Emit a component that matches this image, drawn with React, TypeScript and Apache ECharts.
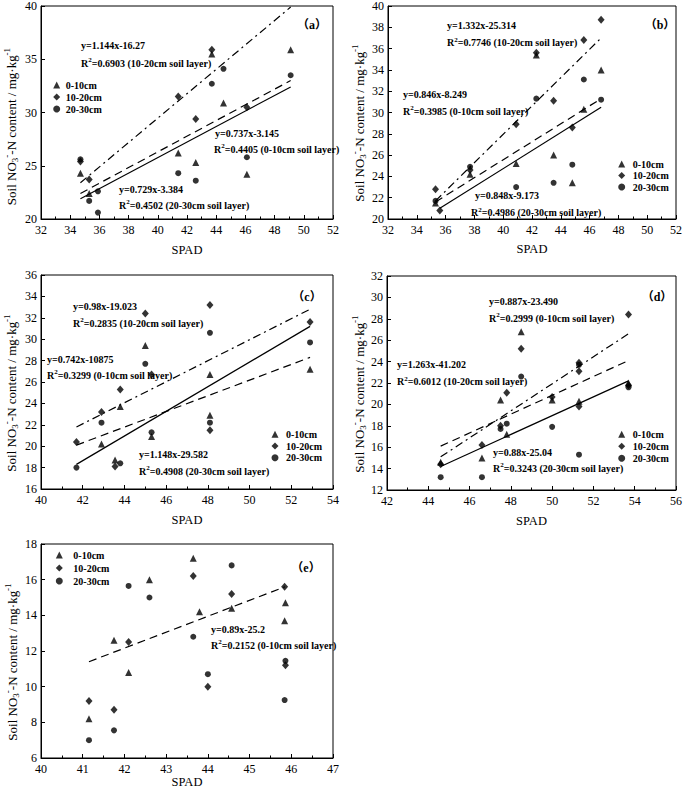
import React, { useEffect, useRef } from "react";
import * as echarts from "echarts";

const SERIF = '"Liberation Serif", "Times New Roman", serif';
const TAGFONT = '"Liberation Serif", "Noto Sans CJK SC", serif';

// ---------- axis ranges [min, max, interval] ----------
const aXAxis = [32, 52, 2];
const aYAxis = [20, 40, 5];
const bXAxis = [32, 52, 2];
const bYAxis = [20, 40, 2];
const cXAxis = [40, 54, 2];
const cYAxis = [16, 36, 2];
const dXAxis = [42, 56, 2];
const dYAxis = [12, 32, 2];
const eXAxis = [40, 47, 1];
const eYAxis = [6, 18, 2];

const LAYERS = ["0-10cm", "10-20cm", "20-30cm"];

// ---------- panel (a) ----------
const aL1 = [[43.7, 35.5], [49.1, 35.9], [44.5, 30.9], [34.7, 24.3], [35.3, 22.4], [41.4, 26.2], [42.6, 25.3], [46.1, 24.2]];
const aL2 = [[43.7, 35.9], [41.4, 31.5], [46.1, 30.5], [42.6, 29.4], [34.7, 25.4], [35.3, 23.7]];
const aL3 = [[44.5, 34.1], [49.1, 33.5], [43.7, 32.7], [34.7, 25.6], [35.9, 22.6], [35.3, 21.7], [35.9, 20.6], [41.4, 24.3], [42.6, 23.6], [46.1, 25.8]];
const aFit1 = [[34.7, 22.4], [49.1, 33.0]];
const aFit2 = [[34.7, 23.4], [49.1, 39.9]];
const aFit3 = [[34.7, 21.9], [49.1, 32.4]];

// ---------- panel (b) ----------
const bL1 = [[42.3, 35.4], [46.8, 34.0], [45.6, 30.3], [43.5, 26.0], [40.9, 25.2], [44.8, 23.4], [37.7, 24.2], [35.3, 21.5]];
const bL2 = [[46.8, 38.7], [45.6, 36.8], [42.3, 35.6], [43.5, 31.1], [44.8, 28.6], [40.9, 28.9], [37.7, 24.6], [35.3, 22.8], [35.6, 20.8]];
const bL3 = [[45.6, 33.1], [42.3, 31.3], [46.8, 31.2], [44.8, 25.1], [37.7, 24.9], [40.9, 23.0], [43.5, 23.4], [35.3, 21.7]];
const bFit1 = [[35.3, 21.6], [46.8, 31.3]];
const bFit2 = [[35.3, 21.7], [46.8, 37.0]];
const bFit3 = [[35.6, 21.0], [46.8, 30.5]];

// ---------- panel (c) ----------
const cL1 = [[45.0, 29.4], [48.1, 26.7], [52.9, 27.2], [43.8, 23.7], [42.9, 20.2], [43.55, 18.7], [45.3, 20.9], [48.1, 22.9]];
const cL2 = [[48.1, 33.2], [45.0, 32.4], [52.9, 31.6], [45.3, 26.7], [43.8, 25.3], [42.9, 23.2], [41.7, 20.4], [43.55, 18.1], [48.1, 21.5]];
const cL3 = [[48.1, 30.6], [52.9, 29.7], [45.0, 27.7], [42.9, 22.2], [41.7, 18.0], [43.8, 18.4], [45.3, 21.3], [48.1, 22.2]];
const cFit1 = [[41.7, 20.1], [52.9, 28.3]];
const cFit2 = [[41.7, 21.8], [52.9, 32.8]];
const cFit3 = [[41.7, 18.3], [52.9, 31.2]];

// ---------- panel (d) ----------
const dL1 = [[48.5, 26.8], [53.7, 22.0], [47.5, 20.4], [50.0, 20.4], [51.3, 20.3], [47.8, 17.2], [46.6, 15.0], [44.6, 14.6]];
const dL2 = [[53.7, 28.4], [48.5, 25.2], [51.3, 23.9], [51.3, 23.1], [53.7, 21.8], [47.8, 21.1], [50.0, 20.7], [51.3, 19.8], [47.5, 18.0], [46.6, 16.2], [44.6, 14.4]];
const dL3 = [[48.5, 22.6], [51.3, 23.7], [53.7, 21.6], [47.8, 18.2], [47.5, 17.7], [50.0, 17.9], [51.3, 15.3], [46.6, 13.2], [44.6, 13.2]];
const dFit1 = [[44.6, 16.1], [53.7, 24.1]];
const dFit2 = [[44.6, 15.1], [53.7, 26.6]];
const dFit3 = [[44.6, 14.2], [53.7, 22.2]];

// ---------- panel (e) ----------
const eL1 = [[43.65, 17.2], [42.6, 16.0], [45.86, 14.7], [44.57, 14.4], [43.8, 14.2], [45.84, 13.7], [41.75, 12.6], [42.1, 10.8], [41.15, 8.2]];
const eL2 = [[43.65, 16.2], [45.84, 15.6], [44.57, 15.2], [42.1, 12.5], [45.86, 11.2], [44.0, 10.0], [41.15, 9.2], [41.75, 8.7]];
const eL3 = [[44.57, 16.8], [42.1, 15.65], [42.6, 15.0], [43.65, 12.8], [45.86, 11.45], [44.0, 10.7], [45.84, 9.25], [41.75, 7.55], [41.15, 7.0]];
const eFit1 = [[41.15, 11.4], [45.85, 15.6]];

// ---------- annotation texts ----------
const aNotes = ["y=1.144x-16.27", "R{s|2}=0.6903 (10-20cm soil layer)", "y=0.737x-3.145", "R{s|2}=0.4405 (0-10cm soil layer)", "y=0.729x-3.384", "R{s|2}=0.4502 (20-30cm soil layer)"];
const bNotes = ["y=1.332x-25.314", "R{s|2}=0.7746 (10-20cm soil layer)", "y=0.846x-8.249", "R{s|2}=0.3985 (0-10cm soil layer)", "y=0.848x-9.173", "R{s|2}=0.4986 (20-30cm soil layer)"];
const cNotes = ["y=0.98x-19.023", "R{s|2}=0.2835 (10-20cm soil layer)", "y=0.742x-10875", "R{s|2}=0.3299 (0-10cm soil layer)", "y=1.148x-29.582", "R{s|2}=0.4908 (20-30cm soil layer)"];
const dNotes = ["y=0.887x-23.490", "R{s|2}=0.2999 (0-10cm soil layer)", "y=1.263x-41.202", "R{s|2}=0.6012 (10-20cm soil layer)", "y=0.88x-25.04", "R{s|2}=0.3243 (20-30cm soil layer)"];
const eNotes = ["y=0.89x-25.2", "R{s|2}=0.2152 (0-10cm soil layer)"];

const Y_NAME = "Soil NO{sub|3}{sup|-}-N content / mg·kg{sup|-1}";
const X_NAME = "SPAD";

// layout (pixels) per panel
const PANELS = [
  {
    tag: "（a）", tagPos: [312, 25], grid: { left: 41, top: 6, width: 292, height: 213 },
    xr: aXAxis, yr: aYAxis, pts: [aL1, aL2, aL3], fits: [aFit1, aFit2, aFit3],
    legend: { left: 53.2, top: 79, pad: 0.5, lh: 12 }, yNameX: 11, yNameDy: 14, nameGap: 24,
    notes: aNotes, notePos: [[81, 45], [81, 63], [215, 133], [214, 149], [119, 189], [119, 205]],
  },
  {
    tag: "（b）", tagPos: [660, 25], grid: { left: 388, top: 5, width: 290, height: 214 },
    xr: bXAxis, yr: bYAxis, pts: [bL1, bL2, bL3], fits: [bFit1, bFit2, bFit3],
    legend: { left: 618.2, top: 158.3, pad: 2.5, lh: 11.5 }, yNameX: 359, yNameDy: 11, nameGap: 23,
    notes: bNotes, notePos: [[447, 25], [447, 42.7], [403, 94.3], [403, 111], [475, 195.7], [471, 212.7]],
  },
  {
    tag: "（c）", tagPos: [307, 296.7], grid: { left: 41, top: 275, width: 292, height: 214 },
    xr: cXAxis, yr: cYAxis, pts: [cL1, cL2, cL3], fits: [cFit1, cFit2, cFit3],
    legend: { left: 271.5, top: 428.3, pad: 2.5, lh: 11.8 }, yNameX: 11, yNameDy: 11, nameGap: 24,
    notes: cNotes, notePos: [[73, 306.7], [73, 323.3], [47, 359.3], [47, 375], [139, 454.3], [139, 471]],
  },
  {
    tag: "（d）", tagPos: [657, 296.7], grid: { left: 387, top: 276, width: 291, height: 214 },
    xr: dXAxis, yr: dYAxis, pts: [dL1, dL2, dL3], fits: [dFit1, dFit2, dFit3],
    legend: { left: 618.2, top: 428.3, pad: 2.5, lh: 12 }, yNameX: 359, yNameDy: 11, nameGap: 24,
    notes: dNotes, notePos: [[489, 301], [489, 318.3], [397, 364], [397, 381.7], [493, 452.3], [493, 468.3]],
  },
  {
    tag: "（e）", tagPos: [306, 567.7], grid: { left: 41, top: 544, width: 292, height: 214 },
    xr: eXAxis, yr: eYAxis, pts: [eL1, eL2, eL3], fits: [eFit1, null, null],
    legend: { left: 55.8, top: 548.5, pad: 5.5, lh: 13 }, yNameX: 12, yNameDy: 11, nameGap: 15,
    notes: eNotes, notePos: [[211, 629], [211, 645]],
  },
];

const SYMBOLS = ["triangle", "diamond", "circle"];
const SYMSIZE: any[] = [7, [7, 8], 6];
const FIT_STYLE: any[] = [[8, 5], [8, 4, 2, 4], "solid"];

function buildOption() {
  const grid: any[] = [];
  const xAxis: any[] = [];
  const yAxis: any[] = [];
  const series: any[] = [];
  const legend: any[] = [];
  const graphic: any[] = [];

  PANELS.forEach((p, i) => {
    grid.push({ ...p.grid, show: true, borderColor: "#000", borderWidth: 1, backgroundColor: "transparent" });
    const tick = { inside: true, length: 4, lineStyle: { color: "#000", width: 1 } };
    xAxis.push({
      gridIndex: i, type: "value", min: p.xr[0], max: p.xr[1], interval: p.xr[2],
      axisLine: { show: true, onZero: false, lineStyle: { color: "#000", width: 1 } },
      axisTick: tick,
      minorTick: { show: true, splitNumber: 2, length: 2.5, lineStyle: { color: "#000", width: 1 } },
      splitLine: { show: false },
      axisLabel: { margin: 5, color: "#000", fontFamily: SERIF, fontSize: 12 },
      name: X_NAME, nameLocation: "middle", nameGap: p.nameGap,
      nameTextStyle: { color: "#000", fontFamily: SERIF, fontSize: 12.5 },
    });
    yAxis.push({
      gridIndex: i, type: "value", min: p.yr[0], max: p.yr[1], interval: p.yr[2],
      axisLine: { show: true, onZero: false, lineStyle: { color: "#000", width: 1 } },
      axisTick: tick,
      splitLine: { show: false },
      axisLabel: { margin: 4, color: "#000", fontFamily: SERIF, fontSize: 12 },
    });
    p.pts.forEach((d, k) => {
      series.push({
        type: "scatter", name: LAYERS[k], xAxisIndex: i, yAxisIndex: i, data: d,
        symbol: SYMBOLS[k], symbolSize: SYMSIZE[k], itemStyle: { color: "#000" }, z: 3,
      });
    });
    p.fits.forEach((f, k) => {
      if (!f) return;
      series.push({
        type: "line", name: "fit-" + i + "-" + k, xAxisIndex: i, yAxisIndex: i, data: f,
        symbol: "none", silent: true, z: 2,
        lineStyle: { color: "#000", width: 1.2, type: FIT_STYLE[k] },
      });
    });
    legend.push({
      orient: "vertical", left: p.legend.left, top: p.legend.top, padding: 0, itemGap: 0,
      itemWidth: 7, itemHeight: 7, selectedMode: false,
      data: LAYERS.map((n, k) => ({ name: n, icon: SYMBOLS[k] })),
      itemStyle: { color: "#000" },
      textStyle: {
        color: "#000", fontFamily: SERIF, fontWeight: "bold", fontSize: 10,
        lineHeight: p.legend.lh, padding: [0, 0, 0, p.legend.pad],
      },
    });
    // panel tag
    graphic.push({
      type: "text", x: p.tagPos[0], y: p.tagPos[1], silent: true,
      style: { text: p.tag, fill: "#000", fontFamily: TAGFONT, fontWeight: "bold", fontSize: 12, align: "center", verticalAlign: "middle" },
    });
    // y axis name
    const cy = p.grid.top + p.grid.height / 2 + p.yNameDy;
    graphic.push({
      type: "text", x: p.yNameX, y: cy, rotation: Math.PI / 2, silent: true,
      style: {
        text: Y_NAME, fill: "#000", fontFamily: SERIF, fontSize: 13, lineHeight: 17,
        align: "center", verticalAlign: "middle",
        rich: {
          sub: { fontFamily: SERIF, fontSize: 9, lineHeight: 8, verticalAlign: "bottom", fill: "#000" },
          sup: { fontFamily: SERIF, fontSize: 9, lineHeight: 9, verticalAlign: "top", fill: "#000" },
        },
      },
    });
    // equation notes
    p.notes.forEach((t, k) => {
      graphic.push({
        type: "text", x: p.notePos[k][0], y: p.notePos[k][1], silent: true,
        style: {
          text: t, fill: "#000", fontFamily: SERIF, fontWeight: "bold", fontSize: 10, lineHeight: 13,
          align: "left", verticalAlign: "middle",
          rich: { s: { fontFamily: SERIF, fontWeight: "bold", fontSize: 7, lineHeight: 7, verticalAlign: "top", fill: "#000" } },
        },
      });
    });
  });

  return { animation: false, backgroundColor: "#fff", grid, xAxis, yAxis, series, legend, graphic };
}

export default function App() {
  const ref = useRef<HTMLDivElement>(null);
  useEffect(() => {
    const chart = echarts.init(ref.current as HTMLDivElement, null, { renderer: "svg" });
    chart.setOption(buildOption() as any);
    return () => chart.dispose();
  }, []);
  return (
    <div
      ref={ref}
      style={{ position: "absolute", left: 0, top: 0, width: 685, height: 793, background: "#fff" }}
    />
  );
}
